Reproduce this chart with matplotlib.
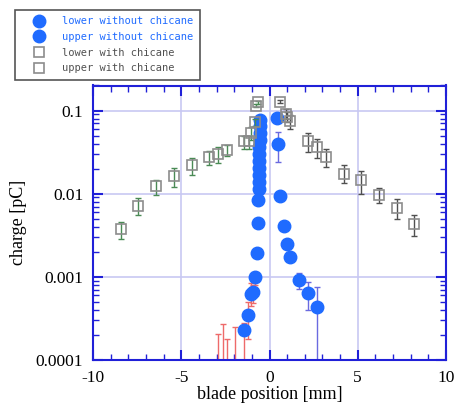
import matplotlib
matplotlib.use("Agg")
import matplotlib.pyplot as plt
import numpy as np

# blade scan, no chicane, lower blade (last four entries lie below the plotted range)
x_lower = [-0.51, -0.52, -0.54, -0.56, -0.57, -0.58, -0.59, -0.60, -0.61, -0.62, -0.62, -0.63,
           -0.66, -0.72, -0.81, -0.91, -1.04, -1.21, -1.44, -2.94, -2.65, -2.43, -1.93]
q_lower = [0.078, 0.0643, 0.0531, 0.0438, 0.0361, 0.0297, 0.0245, 0.0202, 0.0167, 0.0137, 0.0113, 0.00835,
           0.00444, 0.00195, 0.000986, 0.00066, 0.00063, 0.000344, 0.00023, 3e-5, 3e-5, 3e-5, 3e-5]
q_lower_lo = [0.075, 0.062, 0.051, 0.042, 0.035, 0.0285, 0.0235, 0.0194, 0.016, 0.0131, 0.0108, 0.0079,
              0.0042, 0.00185, 0.00080, 0.000486, 0.00045, 0.000177, 5e-5, 1e-5, 1e-5, 1e-5, 1e-5]
q_lower_hi = [0.081, 0.067, 0.055, 0.0455, 0.0375, 0.031, 0.0255, 0.021, 0.0174, 0.0143, 0.0118, 0.0088,
              0.0047, 0.00205, 0.00115, 0.000803, 0.00085, 0.000505, 0.00028, 2.07e-4, 2.73e-4, 1.81e-4, 2.52e-4]

# no chicane, upper blade
x_upper = [0.44, 0.49, 0.57, 0.80, 0.98, 1.18, 1.66, 2.20, 2.69]
q_upper = [0.0818, 0.0399, 0.00933, 0.00408, 0.00247, 0.00175, 0.00092, 0.000648, 0.000428]
q_upper_lo = [0.078, 0.024, 0.0089, 0.0039, 0.00236, 0.00167, 0.000713, 0.000403, 5e-5]
q_upper_hi = [0.0858, 0.055, 0.0098, 0.0043, 0.0026, 0.00184, 0.001125, 0.000879, 0.000753]

# with chicane, lower blade
x_lower_ch = [-8.43, -7.43, -6.42, -5.41, -4.41, -3.45, -2.94, -2.43, -1.42, -1.18, -1.04, -0.80, -0.76, -0.63]
q_lower_ch = [0.00372, 0.00708, 0.01253, 0.01633, 0.02193, 0.02735, 0.0303, 0.0338, 0.0426, 0.0426,
              0.0535, 0.0724, 0.1148, 0.1256]
q_lower_ch_lo = [0.00288, 0.00553, 0.00977, 0.0121, 0.0167, 0.0224, 0.0234, 0.0281, 0.0348, 0.0348,
                 0.0444, 0.065, 0.110, 0.121]
q_lower_ch_hi = [0.00456, 0.00877, 0.0148, 0.0206, 0.0266, 0.0323, 0.0363, 0.0381, 0.0489, 0.0489,
                 0.0631, 0.080, 0.119, 0.130]

# with chicane, upper blade
x_upper_ch = [0.61, 0.91, 0.98, 1.18, 2.20, 2.69, 3.18, 4.20, 5.21, 6.19, 7.20, 8.20]
q_upper_ch = [0.128, 0.0912, 0.0832, 0.0745, 0.0429, 0.0363, 0.0276, 0.01746, 0.01452, 0.00977, 0.00676, 0.00428]
q_upper_ch_lo = [0.122, 0.080, 0.072, 0.060, 0.0317, 0.0268, 0.0209, 0.0136, 0.01004, 0.00764, 0.00491, 0.0031]
q_upper_ch_hi = [0.134, 0.104, 0.095, 0.088, 0.0535, 0.0458, 0.0347, 0.0219, 0.01875, 0.01173, 0.00853, 0.00548]

labels = ["lower without chicane", "upper without chicane", "lower with chicane", "upper with chicane"]

AXIS_BLUE = "#2020d8"
DOT_BLUE = "#1f6bff"


def yerr(q, lo, hi):
    q = np.array(q)
    return [q - np.array(lo), np.array(hi) - q]


fig = plt.figure(figsize=(4.54, 4.07), dpi=100)
ax = fig.add_axes([93 / 454, 47 / 407, 353 / 454, 274.5 / 407])

ax.errorbar(x_lower, q_lower, yerr=yerr(q_lower, q_lower_lo, q_lower_hi), fmt="none",
            ecolor="#ee6a6a", elinewidth=1, capsize=2.5, capthick=1, zorder=2)
ax.errorbar(x_upper, q_upper, yerr=yerr(q_upper, q_upper_lo, q_upper_hi), fmt="none",
            ecolor="#6a6ae0", elinewidth=1, capsize=2.5, capthick=1, zorder=2)
l1, = ax.plot(x_lower, q_lower, "o", ms=9, color=DOT_BLUE, mec=DOT_BLUE, zorder=3)
l2, = ax.plot(x_upper, q_upper, "o", ms=9, color=DOT_BLUE, mec=DOT_BLUE, zorder=3)

ax.errorbar(x_lower_ch, q_lower_ch, yerr=yerr(q_lower_ch, q_lower_ch_lo, q_lower_ch_hi), fmt="none",
            ecolor="#4a8a55", elinewidth=1, capsize=2.5, capthick=1, zorder=4)
ax.errorbar(x_upper_ch, q_upper_ch, yerr=yerr(q_upper_ch, q_upper_ch_lo, q_upper_ch_hi), fmt="none",
            ecolor="#505050", elinewidth=1, capsize=2.5, capthick=1, zorder=4)
l3, = ax.plot(x_lower_ch, q_lower_ch, "s", ms=7.5, mfc="none", mec="#8c8c8c", mew=1.2, zorder=5)
l4, = ax.plot(x_upper_ch, q_upper_ch, "s", ms=7.5, mfc="none", mec="#8c8c8c", mew=1.2, zorder=5)

ax.set_yscale("log")
ax.set_xlim(-10, 10)
ax.set_ylim(1e-4, 0.2)
ax.set_xticks([-10, -5, 0, 5, 10])
ax.set_xticks(np.arange(-10, 11, 1), minor=True)
ax.set_yticks([1e-4, 1e-3, 1e-2, 1e-1])
ax.set_yticklabels(["0.0001", "0.001", "0.01", "0.1"])
ax.set_xticklabels(["-10", "-5", "0", "5", "10"])

ax.grid(which="major", color="#c8c8f2", lw=1.2, zorder=0)
ax.set_axisbelow(True)
for s in ax.spines.values():
    s.set_color(AXIS_BLUE)
    s.set_linewidth(1.5)
ax.tick_params(which="both", direction="in", top=True, right=True, color=AXIS_BLUE)
ax.tick_params(which="major", length=7, width=1.5, pad=7)
ax.tick_params(which="minor", length=4, width=1)

serif = "Liberation Serif"
for t in ax.get_xticklabels() + ax.get_yticklabels():
    t.set_fontfamily(serif)
    t.set_fontsize(12.5)
ax.set_xlabel("blade position [mm]", family=serif, fontsize=13, labelpad=0)
ax.set_ylabel("charge [pC]", family=serif, fontsize=13, labelpad=6)

leg = fig.legend([l1, l2, l3, l4], labels, loc="upper left",
                 bbox_to_anchor=(15 / 454, 1 - 10 / 407), bbox_transform=fig.transFigure,
                 prop={"family": "DejaVu Sans Mono", "size": 7.5},
                 labelcolor=[DOT_BLUE, DOT_BLUE, "#505050", "#505050"],
                 frameon=True, fancybox=False, framealpha=1, edgecolor="#555555",
                 borderaxespad=0, borderpad=0.6, labelspacing=0.55,
                 handlelength=3.5, handletextpad=0.45, markerscale=1.0)
leg.get_frame().set_linewidth(1.2)

fig.savefig("out.png", dpi=100)
